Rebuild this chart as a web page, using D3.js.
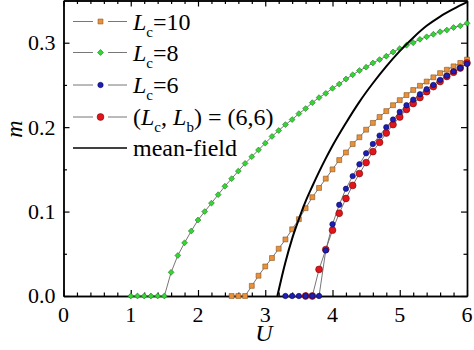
<!DOCTYPE html>
<html>
<head>
<meta charset="utf-8">
<script src="https://cdn.jsdelivr.net/npm/d3@7"></script>
<style>
  html, body { margin: 0; padding: 0; background: #fff; }
  svg, svg text { font-family: "Liberation Serif", "DejaVu Serif", serif; }
</style>
</head>
<body>
<svg id="chart" width="474" height="350"></svg>
<script>
// Order parameter m versus interaction U for several cluster sizes

const uLc8 = [1.0,1.1,1.2,1.3,1.4,1.5,1.6,1.7,1.8,1.9,2.0,2.1,2.2,2.3,2.4,
  2.5,2.6,2.7,2.8,2.9,3.0,3.1,3.2,3.3,3.4,3.5,3.6,3.7,3.8,3.9,4.0,4.1,4.2,4.3,4.4,
  4.5,4.6,4.7,4.8,4.9,5.0,5.1,5.2,5.3,5.4,5.5,5.6,5.7,5.8,5.9,6.0];
const mLc8 = [0,0,0,0,0,0,0.028,0.048,0.063,0.077,0.090,0.100,0.110,0.120,0.130,
  0.139,0.148,0.157,0.165,0.173,0.181,0.189,0.196,0.203,0.209,
  0.216,0.222,0.229,0.235,0.240,0.246,0.251,0.257,0.262,0.267,
  0.271,0.276,0.280,0.284,0.289,0.293,0.297,0.300,0.304,0.307,
  0.310,0.313,0.315,0.318,0.320,0.323];

const uLc10 = [2.5,2.6,2.7,2.8,2.9,3.0,3.1,3.2,3.3,3.4,3.5,3.6,3.7,3.8,3.9,4.0,4.1,4.2,4.3,4.4,
  4.5,4.6,4.7,4.8,4.9,5.0,5.1,5.2,5.3,5.4,5.5,5.6,5.7,5.8,5.9,6.0];
const mLc10 = [0,0,0,0.012,0.024,0.035,0.045,0.056,0.067,0.079,
  0.091,0.104,0.117,0.128,0.139,0.150,0.161,0.170,0.180,0.188,
  0.197,0.205,0.212,0.219,0.226,0.232,0.238,0.244,0.249,0.254,
  0.259,0.264,0.268,0.272,0.276,0.280];

const uLc6 = [3.3,3.4,3.5,3.6,3.7,3.8,3.9,4.0,4.1,4.2,4.3,4.4,4.5,4.6,4.7,4.8,4.9,5.0,
  5.1,5.2,5.3,5.4,5.5,5.6,5.7,5.8,5.9,6.0];
const mLc6 = [0,0,0,0,0,0,0.054,0.085,0.108,0.127,0.142,0.156,0.169,0.180,0.190,0.200,0.209,0.218,
  0.226,0.2325,0.239,0.245,0.250,0.256,0.261,0.266,0.270,0.275];

const uLcLb = [3.6,3.7,3.8,3.9,4.0,4.1,4.2,4.3,4.4,4.5,4.6,4.7,4.8,4.9,5.0,
  5.1,5.2,5.3,5.4,5.5,5.6,5.7,5.8,5.9,6.0];
const mLcLb = [0,0,0.0315,0.055,0.078,0.098,0.1155,0.131,0.145,0.158,0.171,0.182,0.193,0.203,0.212,
  0.221,0.228,0.235,0.242,0.248,0.254,0.260,0.265,0.270,0.276];

const uMF = [3.18,3.25,3.3,3.4,3.5,3.6,3.7,3.8,3.9,4.0,4.2,4.4,4.6,4.8,5.0,5.2,5.4,5.6,5.8,6.0];
const mMF = [0,0.024,0.040,0.068,0.091,0.112,0.130,0.147,0.163,0.178,0.205,0.230,0.252,0.272,0.290,0.306,0.320,0.331,0.340,0.348];

const xTicks = [0,1,2,3,4,5,6];
const yTicks = [0.0,0.1,0.2,0.3];
const yTickLabels = ["0.0","0.1","0.2","0.3"];

const FONT = "'Liberation Serif', 'DejaVu Serif', serif";

const svg = d3.select("#chart").attr("font-family", FONT);
const plotLeft = 63.5, plotRight = 467, plotTop = 0.5, plotBottom = 296;

const x = d3.scaleLinear().domain([0, 6]).range([plotLeft, plotRight]);
const y = d3.scaleLinear().domain([0, 0.35]).range([plotBottom, plotTop]);

const toPts = (us, ms) => us.map((u, i) => [u, ms[i]]);

// Frame with inward ticks on all four sides
const minorX = d3.range(0, 6.0001, 0.2).filter(v => Math.abs(v - Math.round(v)) > 1e-6);
const minorY = [0.05, 0.15, 0.25];

function addAxis(gen, transform) {
  const g = svg.append("g").attr("transform", transform).call(gen);
  g.select(".domain").attr("stroke", "#000").attr("stroke-width", 1.4);
  g.selectAll(".tick line").attr("stroke", "#000").attr("stroke-width", 1.2);
  return g;
}

addAxis(d3.axisBottom(x).tickValues(xTicks).tickSize(-6).tickSizeOuter(0).tickFormat(""), `translate(0,${plotBottom})`);
addAxis(d3.axisBottom(x).tickValues(minorX).tickSize(-3.5).tickSizeOuter(0).tickFormat(""), `translate(0,${plotBottom})`);
addAxis(d3.axisTop(x).tickValues(xTicks).tickSize(-6).tickSizeOuter(0).tickFormat(""), `translate(0,${plotTop})`);
addAxis(d3.axisTop(x).tickValues(minorX).tickSize(-3.5).tickSizeOuter(0).tickFormat(""), `translate(0,${plotTop})`);
addAxis(d3.axisLeft(y).tickValues(yTicks).tickSize(-6).tickSizeOuter(0).tickFormat(""), `translate(${plotLeft},0)`);
addAxis(d3.axisLeft(y).tickValues(minorY).tickSize(-3.5).tickSizeOuter(0).tickFormat(""), `translate(${plotLeft},0)`);
addAxis(d3.axisRight(y).tickValues(yTicks).tickSize(-6).tickSizeOuter(0).tickFormat(""), `translate(${plotRight},0)`);
addAxis(d3.axisRight(y).tickValues(minorY).tickSize(-3.5).tickSizeOuter(0).tickFormat(""), `translate(${plotRight},0)`);

// Tick labels
svg.append("g").selectAll("text").data(xTicks).join("text")
  .attr("font-family", FONT)
  .attr("x", d => x(d)).attr("y", 322)
  .attr("text-anchor", "middle").attr("font-size", 22).attr("fill", "#000")
  .text(d => d);
svg.append("g").selectAll("text").data(yTicks).join("text")
  .attr("font-family", FONT)
  .attr("x", 55.5).attr("y", d => y(d)).attr("dy", "0.34em")
  .attr("text-anchor", "end").attr("font-size", 22).attr("fill", "#000")
  .text((d, i) => yTickLabels[i]);

// Axis titles
svg.append("text").attr("font-family", FONT).attr("x", 264).attr("y", 341)
  .attr("text-anchor", "middle").attr("font-size", 24).attr("font-style", "italic")
  .text("U");
svg.append("text").attr("font-family", FONT).attr("transform", "translate(22,129) rotate(-90)")
  .attr("text-anchor", "middle").attr("font-size", 24).attr("font-style", "italic")
  .text("m");

// Series
const lineGen = d3.line().x(d => x(d[0])).y(d => y(d[1]));
const plot = svg.append("g");

const symSquare = d3.symbol().type(d3.symbolSquare).size(24);
const symDiamond = d3.symbol().type(d3.symbolSquare).size(17);

const series = [
  { key: "Lc8", pts: toPts(uLc8, mLc8), fill: "#33d633", stroke: "#1f7a1f", shape: "diamond" },
  { key: "Lc10", pts: toPts(uLc10, mLc10), fill: "#e8913a", stroke: "#8a5420", shape: "square" },
  { key: "LcLb", pts: toPts(uLcLb, mLcLb), fill: "#e3151b", stroke: "#6d0a0a", shape: "circle", r: 3.4 },
  { key: "Lc6", pts: toPts(uLc6, mLc6), fill: "#1d1db8", stroke: "#0a0a55", shape: "circle", r: 2.7 }
];

function drawMarker(sel, s) {
  if (s.shape === "circle") {
    sel.append("circle").attr("r", s.r).attr("fill", s.fill).attr("stroke", s.stroke).attr("stroke-width", 0.6);
  } else if (s.shape === "square") {
    sel.append("path").attr("d", symSquare())
      .attr("fill", s.fill).attr("stroke", s.stroke).attr("stroke-width", 0.6);
  } else {
    sel.append("path").attr("d", symDiamond()).attr("transform", "rotate(45)")
      .attr("fill", s.fill).attr("stroke", s.stroke).attr("stroke-width", 0.6);
  }
}

series.forEach(s => {
  plot.append("path").datum(s.pts).attr("d", lineGen)
    .attr("fill", "none").attr("stroke", "#666").attr("stroke-width", 0.9);
});
series.forEach(s => {
  plot.append("g").selectAll("g").data(s.pts).join("g")
    .attr("transform", d => `translate(${x(d[0])},${y(d[1])})`)
    .each(function () { drawMarker(d3.select(this), s); });
});

// Mean-field curve
plot.append("path").datum(toPts(uMF, mMF))
  .attr("d", d3.line().x(d => x(d[0])).y(d => y(d[1])).curve(d3.curveMonotoneX))
  .attr("fill", "none").attr("stroke", "#000").attr("stroke-width", 2);

// Legend
const legend = svg.append("g");
const legendRows = [
  { y: 21.5, s: series[1], label: [["L", "i"], ["c", "sub"], ["=10", ""]] },
  { y: 52.5, s: series[0], label: [["L", "i"], ["c", "sub"], ["=8", ""]] },
  { y: 85, s: series[3], label: [["L", "i"], ["c", "sub"], ["=6", ""]] },
  { y: 117, s: series[2], label: [["(", ""], ["L", "i"], ["c", "sub"], [", ", ""], ["L", "i"], ["b", "sub"], [") = (6,6)", ""]] },
  { y: 148, s: null, label: [["mean-field", ""]] }
];

legendRows.forEach(row => {
  const g = legend.append("g");
  if (row.s) {
    g.append("line").attr("x1", 73).attr("x2", 93).attr("y1", row.y).attr("y2", row.y)
      .attr("stroke", "#777").attr("stroke-width", 1);
    g.append("line").attr("x1", 108).attr("x2", 127).attr("y1", row.y).attr("y2", row.y)
      .attr("stroke", "#777").attr("stroke-width", 1);
    const m = g.append("g").attr("transform", `translate(100.5,${row.y})`);
    drawMarker(m, row.s);
  } else {
    g.append("line").attr("x1", 73).attr("x2", 127).attr("y1", row.y).attr("y2", row.y)
      .attr("stroke", "#000").attr("stroke-width", 1.6);
  }
  const t = g.append("text").attr("font-family", FONT)
    .attr("x", 133).attr("y", row.y + 8).attr("font-size", 24).attr("fill", "#000");
  let shifted = false;
  row.label.forEach(([str, kind]) => {
    const sp = t.append("tspan").text(str);
    if (kind === "i") {
      sp.attr("font-style", "italic");
      if (shifted) { sp.attr("dy", -7); shifted = false; }
    } else if (kind === "sub") {
      sp.attr("font-size", 15).attr("dy", 7);
      shifted = true;
    } else {
      if (shifted) { sp.attr("dy", -7); shifted = false; }
    }
  });
});
</script>
</body>
</html>
